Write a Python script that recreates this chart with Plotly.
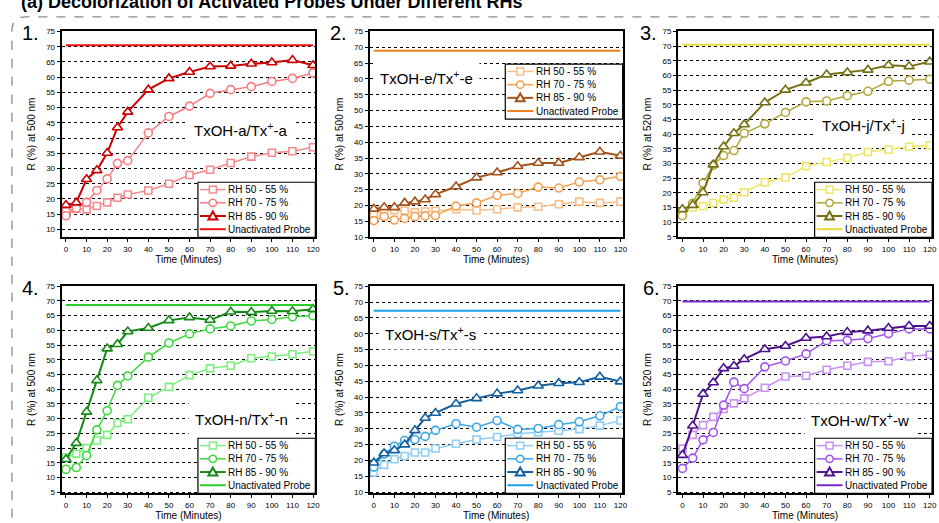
import plotly.graph_objects as go

W, H = 939, 523
FONT = "Liberation Sans, Arial, sans-serif"

time_min = [0, 5, 10, 15, 20, 25, 30, 40, 50, 60, 70, 80, 90, 100, 110, 120]
series_names = ["RH 50 - 55 %", "RH 70 - 75 %", "RH 85 - 90 %", "Unactivated Probe"]

# Panel 1: TxOH-a
a_rh50 = [16.0, 16.8, 16.6, 17.7, 18.9, 20.4, 21.5, 22.8, 25.0, 27.9, 29.6, 31.8, 33.9, 35.2, 35.7, 37.0]
a_rh70 = [14.5, 17.0, 18.9, 22.8, 26.6, 31.7, 32.6, 41.7, 47.1, 50.5, 54.7, 55.9, 56.9, 58.6, 59.6, 61.4]
a_rh85 = [18.0, 18.8, 26.5, 29.4, 35.1, 43.5, 48.6, 55.9, 59.6, 61.7, 63.5, 63.7, 64.4, 64.8, 65.6, 63.9]
a_unact = 70.5

# Panel 2: TxOH-e
e_rh50 = [17.5, 18.5, 18.5, 18.3, 17.8, 18.1, 18.3, 18.8, 18.5, 18.8, 19.4, 19.6, 20.4, 21.2, 20.8, 21.2]
e_rh70 = [15.2, 16.5, 15.4, 15.9, 16.5, 16.7, 16.8, 19.8, 20.8, 23.2, 23.8, 25.8, 25.5, 27.4, 28.1, 29.2]
e_rh85 = [18.9, 19.4, 19.4, 20.8, 21.2, 21.9, 23.5, 26.0, 28.8, 30.4, 32.4, 33.4, 33.4, 35.2, 37.0, 35.7]
e_unact = 68.9

# Panel 3: TxOH-j
j_rh50 = [13.5, 15.0, 15.5, 16.5, 17.7, 18.3, 20.2, 23.6, 25.2, 29.1, 30.5, 31.9, 33.9, 34.7, 35.7, 36.2]
j_rh70 = [12.2, 16.4, 23.3, 29.4, 32.7, 34.4, 40.3, 43.5, 47.4, 51.0, 51.3, 53.1, 54.6, 58.0, 58.4, 58.7]
j_rh85 = [14.4, 15.8, 20.1, 29.6, 35.8, 40.3, 43.3, 50.8, 55.1, 57.5, 60.3, 61.0, 61.9, 63.5, 63.1, 64.7]
j_unact = 70.5

# Panel 4: TxOH-n
n_rh50 = [16.8, 18.1, 20.0, 22.6, 24.5, 28.5, 29.8, 37.1, 40.8, 44.8, 47.1, 48.0, 50.5, 51.1, 51.9, 52.9]
n_rh70 = [12.8, 13.4, 17.5, 26.2, 32.7, 41.3, 44.5, 50.9, 55.7, 58.8, 60.5, 61.5, 63.2, 63.7, 64.6, 65.0]
n_rh85 = [16.2, 21.7, 32.3, 43.0, 53.8, 55.3, 59.6, 60.8, 63.4, 64.4, 63.5, 66.3, 66.2, 66.6, 66.5, 67.2]
n_unact = 68.6

# Panel 5: TxOH-s
s_rh50 = [16.2, 18.6, 20.4, 21.4, 22.5, 22.5, 23.8, 25.3, 26.6, 27.4, 28.4, 28.9, 29.4, 29.9, 31.0, 32.6]
s_rh70 = [17.9, 22.0, 24.5, 26.3, 26.6, 27.6, 29.5, 31.6, 30.5, 32.6, 29.8, 30.1, 31.3, 32.2, 34.1, 37.0]
s_rh85 = [19.3, 22.2, 23.2, 25.0, 29.5, 33.4, 35.0, 37.9, 39.6, 41.1, 42.1, 43.6, 44.4, 44.7, 46.4, 44.9]
s_unact = 67.3

# Panel 6: TxOH-w
w_rh50 = [19.8, 24.5, 27.8, 30.6, 33.3, 35.2, 36.9, 40.5, 44.3, 44.6, 46.6, 48.0, 49.3, 49.5, 51.1, 51.7]
w_rh70 = [13.1, 16.6, 22.8, 25.3, 34.6, 42.4, 40.2, 47.6, 49.6, 52.0, 56.5, 56.6, 57.2, 58.9, 60.5, 60.5]
w_rh85 = [17.6, 27.6, 38.4, 42.3, 47.1, 47.9, 50.2, 53.6, 54.7, 57.4, 57.9, 59.4, 59.9, 60.8, 61.5, 61.5]
w_unact = 69.8

panel_numbers = ["1.", "2.", "3.", "4.", "5.", "6."]
panel_labels = ["TxOH-a/Tx<sup>+</sup>-a", "TxOH-e/Tx<sup>+</sup>-e", "TxOH-j/Tx<sup>+</sup>-j",
                "TxOH-n/Tx<sup>+</sup>-n", "TxOH-s/Tx<sup>+</sup>-s", "TxOH-w/Tx<sup>+</sup>-w"]
y_titles = ["R (%) at 500 nm", "R (%) at 500 nm", "R (%) at 520 nm",
            "R (%) at 500 nm", "R (%) at 450 nm", "R (%) at 520 nm"]
x_title = "Time (Minutes)"
fig_title = "(a) Decolorization of Activated Probes Under Different RHs"

panels = [
    (a_rh50, a_rh70, a_rh85, a_unact),
    (e_rh50, e_rh70, e_rh85, e_unact),
    (j_rh50, j_rh70, j_rh85, j_unact),
    (n_rh50, n_rh70, n_rh85, n_unact),
    (s_rh50, s_rh70, s_rh85, s_unact),
    (w_rh50, w_rh70, w_rh85, w_unact),
]

# style (colours per panel: rh50, rh70, rh85, unactivated)
colors = [
    ("#F58A8E", "#F77B80", "#CC0000", "#F01010"),
    ("#F8BE88", "#F3A050", "#A4521C", "#F07F20"),
    ("#EDE563", "#B2A63A", "#767014", "#E4DA3A"),
    ("#7EEE7E", "#3ED83E", "#168A16", "#2ACD2A"),
    ("#8ECDF5", "#3EA6E6", "#13609E", "#1AA0EE"),
    ("#C990F5", "#A052EE", "#4E138E", "#7A2BCD"),
]
y_ranges = [[7.4, 75.3], [9.9, 75.3], [4.8, 75.3], [4.6, 75.2], [9.6, 75.2], [4.6, 75.2]]

# pixel layout of plot areas
x_px = [(62, 317), (371.5, 626), (681.7, 937)]
y_px = [(27, 237), (286, 497)]
legend_top_px = [181, 61, 181, 441, 441, 441]
label_px = [(241.5, 127), (429, 75), (868, 122), (243, 421), (432.5, 335), (865, 422)]
num_px = [(20, 29), (330, 29), (641, 29), (20, 288), (333, 288), (644, 288)]
LEG_W, LEG_H = 118, 56


def px2x(v):
    return v / W


def px2y(v):
    return 1 - v / H


fig = go.Figure()
annotations = []
shapes = []
layout_extra = {}

for i, (rh50, rh70, rh85, unact) in enumerate(panels):
    k = i + 1
    xa = "x" if k == 1 else f"x{k}"
    ya = "y" if k == 1 else f"y{k}"
    c50, c70, c85, cun = colors[i]
    specs = [
        (rh50, c50, "square", 7, 1.5),
        (rh70, c70, "circle", 8, 1.5),
        (rh85, c85, "triangle-up", 9, 2.0),
    ]
    for (vals, col, sym, msz, lw), nm in zip(specs, series_names[:3]):
        fig.add_trace(go.Scatter(
            x=time_min, y=vals, name=nm, mode="lines+markers", showlegend=False,
            line=dict(color=col, width=lw),
            marker=dict(symbol=sym, size=msz, color="white", line=dict(color=col, width=1.6)),
            xaxis=xa, yaxis=ya,
        ))
    fig.add_trace(go.Scatter(
        x=[time_min[0], time_min[-1]], y=[unact, unact], name=series_names[3], mode="lines",
        showlegend=False, line=dict(color=cun, width=2), xaxis=xa, yaxis=ya,
    ))

    col = i % 3
    row = i // 3
    x0, x1 = x_px[col]
    yt, yb = y_px[row]
    xd = [px2x(x0), px2x(x1)]
    yd = [px2y(yb), px2y(yt)]
    axname_x = "xaxis" if k == 1 else f"xaxis{k}"
    axname_y = "yaxis" if k == 1 else f"yaxis{k}"
    layout_extra[axname_x] = dict(
        domain=xd, anchor=ya, range=[-2.1, 121.1], tick0=0, dtick=10,
        showgrid=False, zeroline=False, showline=True, linecolor="black", linewidth=2,
        mirror=True, ticks="outside", ticklen=3, tickwidth=1, tickcolor="black",
        tickfont=dict(size=8, color="black"),
        title=dict(text=x_title, font=dict(size=10, color="black"), standoff=1),
    )
    layout_extra[axname_y] = dict(
        domain=yd, anchor=xa, range=y_ranges[i], tick0=0, dtick=5,
        showgrid=True, gridcolor="black", griddash="dot", gridwidth=1,
        zeroline=False, showline=True, linecolor="black", linewidth=2,
        mirror=True, ticks="outside", ticklen=3, tickwidth=1, tickcolor="black",
        tickfont=dict(size=8, color="black"),
        title=dict(text=y_titles[i], font=dict(size=10, color="black"), standoff=9),
    )

    # hand-built compact legend box (Origin style)
    L = x1 - LEG_W
    T = legend_top_px[i]
    shapes.append(dict(type="rect", xref="paper", yref="paper", layer="above",
                       x0=px2x(L), x1=px2x(x1), y0=px2y(T), y1=px2y(T + LEG_H),
                       line=dict(color="black", width=1.2), fillcolor="white"))
    entry_cols = [c50, c70, c85, cun]
    entry_w = [1.5, 1.5, 2.0, 2.0]
    entry_sym = ["square", "circle", "triangle", None]
    for j in range(4):
        ry = T + 7.5 + 13.4 * j
        shapes.append(dict(type="line", xref="paper", yref="paper", layer="above",
                           x0=px2x(L + 2), x1=px2x(L + 28), y0=px2y(ry), y1=px2y(ry),
                           line=dict(color=entry_cols[j], width=entry_w[j])))
        cx = L + 15
        mline = dict(color=entry_cols[j], width=1.5)
        if entry_sym[j] == "square":
            shapes.append(dict(type="rect", xref="paper", yref="paper", layer="above",
                               x0=px2x(cx - 3.5), x1=px2x(cx + 3.5),
                               y0=px2y(ry - 3.5), y1=px2y(ry + 3.5),
                               line=mline, fillcolor="white"))
        elif entry_sym[j] == "circle":
            shapes.append(dict(type="circle", xref="paper", yref="paper", layer="above",
                               x0=px2x(cx - 3.7), x1=px2x(cx + 3.7),
                               y0=px2y(ry - 3.7), y1=px2y(ry + 3.7),
                               line=mline, fillcolor="white"))
        elif entry_sym[j] == "triangle":
            tp = (f"M {px2x(cx - 4.5)},{px2y(ry + 3.5)} L {px2x(cx + 4.5)},{px2y(ry + 3.5)} "
                  f"L {px2x(cx)},{px2y(ry - 4.5)} Z")
            shapes.append(dict(type="path", xref="paper", yref="paper", layer="above",
                               path=tp, line=dict(color=entry_cols[j], width=2), fillcolor="white"))
        annotations.append(dict(
            text=series_names[j], x=px2x(L + 28.5), y=px2y(ry), xref="paper", yref="paper",
            xanchor="left", yanchor="middle", showarrow=False,
            font=dict(size=10, color="black", family=FONT),
        ))

    lx_c, ly_c = label_px[i]
    annotations.append(dict(
        text=panel_labels[i], x=px2x(lx_c), y=px2y(ly_c), xref="paper", yref="paper",
        xanchor="center", yanchor="middle", showarrow=False, bgcolor="white",
        borderpad=6, font=dict(size=15, color="black", family=FONT),
    ))
    nx, ny = num_px[i]
    annotations.append(dict(
        text=panel_numbers[i], x=px2x(nx), y=px2y(ny), xref="paper", yref="paper",
        xanchor="left", yanchor="middle", showarrow=False,
        font=dict(size=20, color="black", family=FONT),
    ))

annotations.append(dict(
    text=f"<b>{fig_title}</b>", x=px2x(19), y=px2y(-2), xref="paper", yref="paper",
    xanchor="left", yanchor="middle", showarrow=False,
    font=dict(size=18, color="black", family=FONT),
))

# dashed rounded frame around all panels
fx0, fy0, r = 12, 13, 14
fx1, fy1 = 960, 540
path = (f"M {px2x(fx0)},{px2y(fy1)} L {px2x(fx0)},{px2y(fy0 + r)} "
        f"Q {px2x(fx0)},{px2y(fy0)} {px2x(fx0 + r)},{px2y(fy0)} L {px2x(fx1)},{px2y(fy0)}")
shapes.insert(0, dict(type="path", path=path, xref="paper", yref="paper",
                      line=dict(color="#8A8A8A", width=1.3, dash="dash"), layer="below"))

fig.update_layout(
    width=W, height=H, margin=dict(l=0, r=0, t=0, b=0),
    paper_bgcolor="white", plot_bgcolor="white",
    font=dict(family=FONT, color="black"),
    annotations=annotations, shapes=shapes,
    **layout_extra,
)

fig.write_html("out.html", config={"displayModeBar": False},
               post_script="document.body.style.margin='0';document.body.style.overflow='hidden';")
